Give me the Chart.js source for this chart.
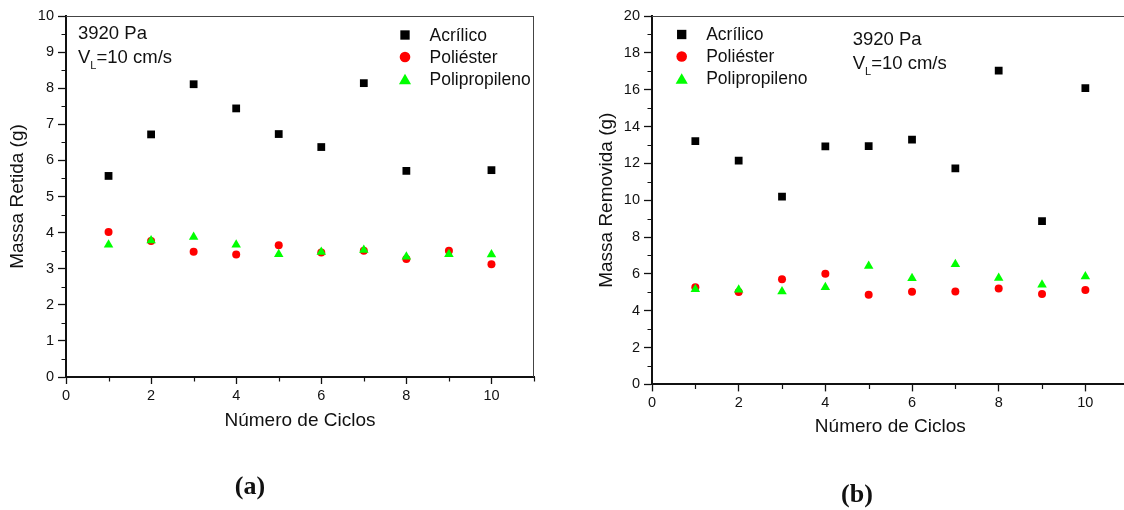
<!DOCTYPE html>
<html>
<head>
<meta charset="utf-8">
<title>Massa Retida / Massa Removida</title>
<script src="https://cdn.jsdelivr.net/npm/chart.js@4.4.1/dist/chart.umd.min.js"></script>
<style>
  html, body { margin: 0; padding: 0; background: #fff; }
  body { width: 1124px; height: 510px; overflow: hidden; position: relative; }
  #chartA { position: absolute; left: 0; top: 0; }
  #chartB { position: absolute; left: 560px; top: 0; }
</style>
</head>
<body>
<canvas id="chartA" width="560" height="510"></canvas>
<canvas id="chartB" width="580" height="510"></canvas>

<script>
// ====================================
// DATA
// ====================================
const cycles = [1, 2, 3, 4, 5, 6, 7, 8, 9, 10];
const seriesNames = ['Acrílico', 'Poliéster', 'Polipropileno'];

// (a) Massa Retida (g)
const retidaAcrilico = [5.57, 6.72, 8.11, 7.44, 6.73, 6.37, 8.14, 5.71, null, 5.73];
const retidaPoliester = [4.02, 3.77, 3.47, 3.39, 3.65, 3.45, 3.50, 3.27, 3.50, 3.12];
const retidaPolipropileno = [3.66, 3.78, 3.88, 3.66, 3.40, 3.46, 3.52, 3.33, 3.40, 3.39];

// (b) Massa Removida (g)
const removidaAcrilico = [13.21, 12.15, 10.19, 12.92, 12.94, 13.29, 11.73, 17.03, 8.87, 16.09];
const removidaPoliester = [5.27, 5.02, 5.71, 6.01, 4.87, 5.03, 5.05, 5.20, 4.91, 5.12];
const removidaPolipropileno = [5.16, 5.14, 5.05, 5.28, 6.43, 5.76, 6.52, 5.78, 5.41, 5.86];

// tick labels
const xTicks = [0, 2, 4, 6, 8, 10];
const xMinorTicks = [1, 3, 5, 7, 9, 11];
const yTicksA = [0, 1, 2, 3, 4, 5, 6, 7, 8, 9, 10];
const yMinorTicksA = [0.5, 1.5, 2.5, 3.5, 4.5, 5.5, 6.5, 7.5, 8.5, 9.5];
const yTicksB = [0, 2, 4, 6, 8, 10, 12, 14, 16, 18, 20];
const yMinorTicksB = [1, 3, 5, 7, 9, 11, 13, 15, 17, 19];

// ====================================
// STYLE
// ====================================
const FONT = "'Liberation Sans', Arial, sans-serif";
const INK = '#111';
const markers = [
  { style: 'rect', color: '#000000', radius: 5.5, legendRadius: 6.6, order: 2 },
  { style: 'circle', color: '#ff0000', radius: 4.0, legendRadius: 5.3, order: 1 },
  { style: 'triangle', color: '#00ff00', radius: 5.5, legendRadius: 7.0, order: 0 }
];

function toPoints(values) {
  return cycles
    .map((c, i) => ({ x: c, y: values[i] }))
    .filter(p => p.y !== null);
}

/**
 * Draws frame, minor ticks, axis titles, legend and annotations
 */
function decorations(cfg) {
  return {
    id: 'decorations',
    afterDraw(chart) {
      const ctx = chart.ctx;
      const area = chart.chartArea;
      const xs = chart.scales.x;
      const ys = chart.scales.y;
      ctx.save();

      // top / right frame
      ctx.strokeStyle = '#444';
      ctx.lineWidth = 1;
      ctx.beginPath();
      ctx.moveTo(area.left, area.top + 0.5);
      ctx.lineTo(area.right, area.top + 0.5);
      ctx.moveTo(area.right - 0.5, area.top);
      ctx.lineTo(area.right - 0.5, area.bottom);
      ctx.stroke();

      // minor ticks
      ctx.strokeStyle = INK;
      ctx.lineWidth = 1.2;
      ctx.beginPath();
      xMinorTicks.forEach(v => {
        const px = Math.round(xs.getPixelForValue(v)) + 0.5;
        ctx.moveTo(px, area.bottom);
        ctx.lineTo(px, area.bottom + 4.5);
      });
      cfg.yMinor.forEach(v => {
        const py = Math.round(ys.getPixelForValue(v)) + 0.5;
        ctx.moveTo(area.left, py);
        ctx.lineTo(area.left - 4.5, py);
      });
      ctx.stroke();

      ctx.fillStyle = INK;

      // axis titles
      ctx.font = '19px ' + FONT;
      ctx.textAlign = 'center';
      ctx.textBaseline = 'alphabetic';
      ctx.fillText(cfg.xTitle, (area.left + area.right) / 2, cfg.xTitleY);
      ctx.save();
      ctx.translate(cfg.yTitleX, (area.top + area.bottom) / 2);
      ctx.rotate(-Math.PI / 2);
      ctx.fillText(cfg.yTitle, 0, 0);
      ctx.restore();

      // condition text
      ctx.textAlign = 'left';
      ctx.font = '18.5px ' + FONT;
      ctx.fillText('3920 Pa', cfg.noteX, cfg.noteY);
      let nx = cfg.noteX;
      const ny = cfg.noteY + 24;
      ctx.fillText('V', nx, ny);
      nx += ctx.measureText('V').width;
      ctx.font = '11px ' + FONT;
      ctx.fillText('L', nx, ny + 6);
      nx += ctx.measureText('L').width;
      ctx.font = '18.5px ' + FONT;
      ctx.fillText('=10 cm/s', nx, ny);

      // legend
      ctx.font = '17.5px ' + FONT;
      ctx.textBaseline = 'middle';
      seriesNames.forEach((name, i) => {
        const m = markers[i];
        const rowY = cfg.legendY + i * 22;
        ctx.fillStyle = m.color;
        const symY = m.style === 'triangle' ? rowY + m.legendRadius / 4 : rowY;
        Chart.helpers.drawPoint(ctx, {
          pointStyle: m.style, radius: m.legendRadius, borderWidth: 0, rotation: 0
        }, cfg.legendX, symY);
        ctx.fillStyle = INK;
        ctx.fillText(name, cfg.legendX + 24.5, rowY + 1);
      });

      // panel label
      ctx.font = 'bold 26px "Liberation Serif", "Times New Roman", serif';
      ctx.textAlign = 'center';
      ctx.textBaseline = 'alphabetic';
      ctx.fillText(cfg.panel, cfg.panelX, cfg.panelY);

      ctx.restore();
    }
  };
}

/**
 * Build one scatter panel
 */
function buildPanel(canvasId, cfg) {
  const ctx = document.getElementById(canvasId).getContext('2d');
  const datasets = cfg.series.map((values, i) => ({
    label: seriesNames[i],
    data: toPoints(values),
    pointStyle: markers[i].style,
    pointRadius: markers[i].radius,
    pointHoverRadius: markers[i].radius,
    backgroundColor: markers[i].color,
    borderColor: markers[i].color,
    borderWidth: 0,
    order: markers[i].order
  }));

  return new Chart(ctx, {
    type: 'scatter',
    data: { datasets },
    options: {
      responsive: false,
      animation: false,
      events: [],
      layout: { padding: { left: 0, top: 16, right: cfg.padRight, bottom: 0 } },
      plugins: {
        legend: { display: false },
        tooltip: { enabled: false }
      },
      scales: {
        x: {
          type: 'linear',
          min: 0,
          max: 11,
          afterBuildTicks: s => { s.ticks = xTicks.map(v => ({ value: v })); },
          afterFit: s => { s.height = cfg.xHeight; },
          ticks: {
            color: INK,
            font: { family: FONT, size: 14.5 },
            padding: 3,
            maxRotation: 0,
            autoSkip: false
          },
          grid: {
            drawOnChartArea: false,
            drawTicks: true,
            tickLength: 7,
            tickColor: INK,
            tickWidth: 1.3
          },
          border: { display: true, color: INK, width: 2 }
        },
        y: {
          type: 'linear',
          min: 0,
          max: cfg.yMax,
          afterBuildTicks: s => { s.ticks = cfg.yTicks.map(v => ({ value: v })); },
          afterFit: s => { s.width = cfg.yWidth; },
          ticks: {
            color: INK,
            font: { family: FONT, size: 14.5 },
            padding: 4
          },
          grid: {
            drawOnChartArea: false,
            drawTicks: true,
            tickLength: 8,
            tickColor: INK,
            tickWidth: 1.3
          },
          border: { display: true, color: INK, width: 2 }
        }
      }
    },
    plugins: [decorations(cfg)]
  });
}

buildPanel('chartA', {
  series: [retidaAcrilico, retidaPoliester, retidaPolipropileno],
  yMax: 10,
  yTicks: yTicksA,
  yMinor: yMinorTicksA,
  yWidth: 66,
  xHeight: 133,
  padRight: 26,
  xTitle: 'Número de Ciclos',
  yTitle: 'Massa Retida (g)',
  xTitleY: 426,
  yTitleX: 23,
  noteX: 78,
  noteY: 39,
  legendX: 405,
  legendY: 35,
  panel: '(a)',
  panelX: 250,
  panelY: 494
});

buildPanel('chartB', {
  series: [removidaAcrilico, removidaPoliester, removidaPolipropileno],
  yMax: 20,
  yTicks: yTicksB,
  yMinor: yMinorTicksB,
  yWidth: 92,
  xHeight: 125.6,
  padRight: 11.3,
  xTitle: 'Número de Ciclos',
  yTitle: 'Massa Removida (g)',
  xTitleY: 432,
  yTitleX: 52,
  noteX: 292.7,
  noteY: 45,
  legendX: 121.7,
  legendY: 34.5,
  panel: '(b)',
  panelX: 297,
  panelY: 502
});
</script>
</body>
</html>
